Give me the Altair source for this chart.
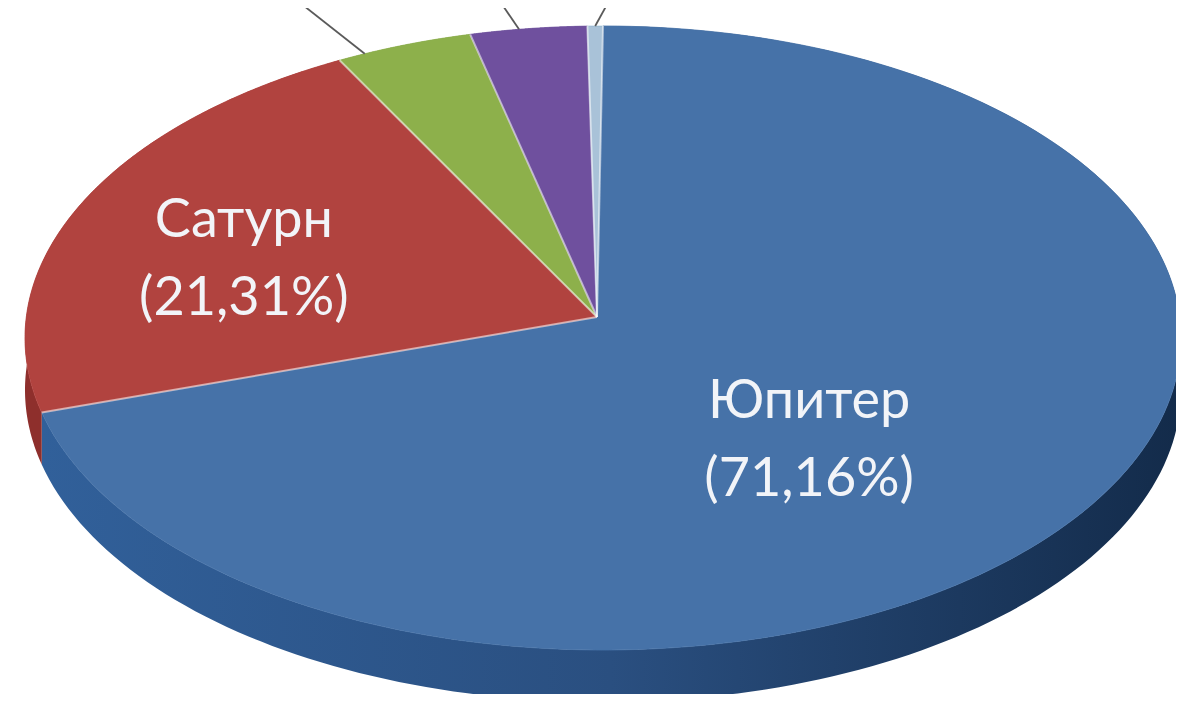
import altair as alt
import pandas as pd

# ---- data -------------------------------------------------------------
planets = ["Юпитер", "Сатурн", "Нептун", "Уран", "Планеты земной группы"]
shares = [71.16, 21.31, 3.84, 3.26, 0.43]
top_colors = ["#4672A8", "#B1433F", "#8DB04B", "#6F509E", "#A9C2D8"]
side_colors = ["#2A4F80", "#8E2F2C", "#66863A", "#4F3878", "#7C98B4"]

# ---- style / geometry (not data) --------------------------------------
A, B, DEPTH = 578, 312, 52          # ellipse half-axes and rim depth (px)
APEX_X, APEX_Y = -6, 21             # perspective shift of the pie centre
N = 180                              # arc resolution
X_DOM = [-595, 573]
Y_DOM = [-356, 330]
label_fx = {"Юпитер": 0.453, "Сатурн": 0.683}
label_fy = {"Юпитер": 0.535, "Сатурн": 0.60}
leader = {"Нептун": (0.2, -61, 48), "Уран": (0.42, -15, 22), "Планеты земной группы": (0.5, 11, 20)}

labels = [f"{n}\n({s:.2f}%)".replace(".", ",") for n, s in zip(planets, shares)]

df = pd.DataFrame({"name": planets, "share": shares, "order": list(range(len(planets))), "label": labels})
df["fx"] = [label_fx.get(n, 0) for n in planets]
df["fy"] = [label_fy.get(n, 0) for n in planets]
df["lf"] = [leader.get(n, (0, 0, 0))[0] for n in planets]
df["ldx"] = [leader.get(n, (0, 0, 0))[1] for n in planets]
df["ldy"] = [leader.get(n, (0, 0, 0))[2] for n in planets]
df["has_leader"] = [n in leader for n in planets]
df["top_t"] = [list(range(N + 2)) for _ in planets]
df["side_t"] = [list(range(2 * N + 2)) for _ in planets]

xs = alt.Scale(domain=X_DOM, zero=False, nice=False)
ys = alt.Scale(domain=Y_DOM, zero=False, nice=False)
top_scale = alt.Scale(domain=planets, range=top_colors)
side_scale = alt.Scale(domain=planets, range=side_colors)

base = alt.Chart(df).transform_window(
    cum="sum(share)", sort=[alt.SortField("order")], frame=[None, 0]
).transform_calculate(start="datum.cum - datum.share")

enc_xy = dict(
    x=alt.X("px:Q", scale=xs, axis=None),
    y=alt.Y("py:Q", scale=ys, axis=None),
)

# rim (side walls)
side_base = base.transform_flatten(["side_t"]).transform_calculate(
    k=f"datum.side_t <= {N} ? datum.side_t : {2 * N + 1} - datum.side_t"
).transform_calculate(
    ang=f"2*PI*(datum.start + datum.share*datum.k/{N})/100"
).transform_calculate(
    px=f"{A}*sin(datum.ang)",
    py=f"{B}*cos(datum.ang) - (datum.side_t > {N} ? {DEPTH} : 0)",
)
side_jup = side_base.transform_filter(f"datum.name == '{planets[0]}'").mark_line(
    clip=True,
    strokeWidth=0,
    fill=alt.Gradient(
        gradient="linear", x1=0, x2=1, y1=0, y2=0,
        stops=[alt.GradientStop(offset=0, color="#31609A"),
               alt.GradientStop(offset=0.5, color="#2A4F80"),
               alt.GradientStop(offset=1, color="#132B4A")],
    ),
).encode(order="side_t:Q", detail="name:N", **enc_xy)
side_rest = side_base.transform_filter(f"datum.name != '{planets[0]}'").mark_line(
    clip=True, strokeWidth=0
).encode(
    order="side_t:Q", detail="name:N",
    fill=alt.Fill("name:N", scale=side_scale, legend=None), **enc_xy
)
sides = alt.layer(side_jup, side_rest)

# top faces
top = base.transform_flatten(["top_t"]).transform_calculate(
    ang=f"2*PI*(datum.start + datum.share*(datum.top_t-1)/{N})/100"
).transform_calculate(
    px=f"datum.top_t == 0 ? {APEX_X} : {A}*sin(datum.ang)",
    py=f"datum.top_t == 0 ? {APEX_Y} : {B}*cos(datum.ang)",
).mark_line(clip=True, strokeWidth=0.8).encode(
    order="top_t:Q", detail="name:N",
    fill=alt.Fill("name:N", scale=top_scale, legend=None),
    stroke=alt.Stroke("name:N", scale=top_scale, legend=None),
    **enc_xy,
)

# slice borders
borders = base.transform_calculate(
    ang="2*PI*datum.start/100"
).transform_calculate(
    ax=f"{APEX_X}", ay=f"{APEX_Y}",
    ex=f"{A}*sin(datum.ang)", ey=f"{B}*cos(datum.ang)",
).mark_rule(clip=True, color="#FFFFFF", strokeWidth=2, opacity=0.55).encode(
    x=alt.X("ax:Q", scale=xs, axis=None),
    y=alt.Y("ay:Q", scale=ys, axis=None),
    x2="ex:Q", y2="ey:Q",
)

# leader lines of the small slices (labels lie above the visible area)
leaders = base.transform_filter("datum.has_leader").transform_calculate(
    ang="2*PI*(datum.start + datum.share*datum.lf)/100"
).transform_calculate(
    sx=f"{A}*sin(datum.ang)", sy=f"{B}*cos(datum.ang)"
).transform_calculate(
    tx="datum.sx + datum.ldx", ty="datum.sy + datum.ldy"
).mark_rule(clip=True, color="#5A5A5A", strokeWidth=1.8).encode(
    x=alt.X("sx:Q", scale=xs, axis=None),
    y=alt.Y("sy:Q", scale=ys, axis=None),
    x2="tx:Q", y2="ty:Q",
)

# data labels
text = base.transform_filter("datum.fx > 0").transform_calculate(
    ang="2*PI*(datum.start + datum.share/2)/100"
).transform_calculate(
    lx=f"{A}*sin(datum.ang)*datum.fx", ly=f"{B}*cos(datum.ang)*datum.fy"
).mark_text(
    lineBreak="\n", fontSize=54, font="Lato", color="#F2F4F8",
    align="center", baseline="middle", lineHeight=78, dy=-39, clip=True,
).encode(
    x=alt.X("lx:Q", scale=xs, axis=None),
    y=alt.Y("ly:Q", scale=ys, axis=None),
    text="label:N",
)

chart = alt.layer(sides, top, borders, leaders, text).resolve_scale(
    fill="independent", stroke="independent"
).properties(
    width=1168, height=686, padding=0,
    autosize=alt.AutoSizeParams(type="none"),
    background="#FFFFFF",
).configure_view(stroke=None)

chart.save("out.html", embed_options={"renderer": "svg", "actions": False})
